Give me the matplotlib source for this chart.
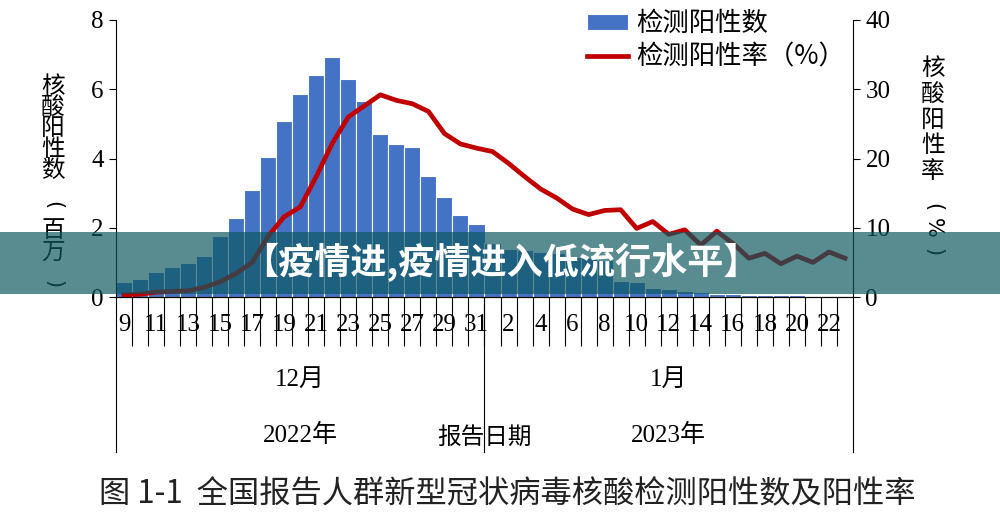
import matplotlib.pyplot as plt
import matplotlib.transforms as mtransforms
from matplotlib.lines import Line2D
from matplotlib.patches import Rectangle

plt.rcParams['font.family'] = ['Liberation Serif', 'Noto Sans CJK SC']
CJK = ['Noto Sans CJK SC', 'DejaVu Sans']

# 报告日期: 2022-12-09 .. 2023-01-23
dec_days = list(range(9, 32))
jan_days = list(range(1, 24))

# 检测阳性数 (百万)
positive_counts = [0.42, 0.51, 0.71, 0.87, 0.99, 1.18, 1.75, 2.27, 3.08, 4.04,
                   5.08, 5.87, 6.40, 6.93, 6.29, 5.65, 4.72, 4.43, 4.33, 3.49,
                   2.88, 2.38, 2.12,
                   1.56, 1.38, 1.35, 1.30, 1.27, 1.15, 1.12, 1.08, 0.45, 0.42,
                   0.27, 0.24, 0.17, 0.14, 0.10, 0.09, 0.07, 0.07, 0.05, 0.05,
                   0.04, 0.03, 0.02]

# 检测阳性率 (%)
positive_rate = [0.3, 0.4, 0.7, 0.8, 0.9, 1.4, 2.2, 3.4, 5.0, 8.8,
                 11.6, 13.0, 17.4, 22.2, 26.0, 27.6, 29.2, 28.4, 27.9, 26.8,
                 23.6, 22.1, 21.5,
                 21.0, 19.3, 17.4, 15.6, 14.3, 12.7, 11.9, 12.5, 12.6, 9.9,
                 10.9, 9.05, 9.7, 7.5, 9.5, 7.75, 5.6, 6.3, 4.8, 5.9,
                 5.0, 6.5, 5.6]

months = ['12月', '1月']
years = ['2022年', '2023年']

days = dec_days + jan_days
x = list(range(len(days)))
tick_labels = []
for i, d in enumerate(days):
    in_dec = i < len(dec_days)
    show = (in_dec and d % 2 == 1) or (not in_dec and d % 2 == 0)
    tick_labels.append(str(d) if show else '')

W, H = 1000, 526
fig = plt.figure(figsize=(10, 5.26), dpi=100)
ax = fig.add_axes([116 / W, 1 - 297 / H, 737 / W, 277 / H])

bars = ax.bar(x, positive_counts, width=1.0, color='#4472C4',
              edgecolor='white', linewidth=0.8)
ax.set_xlim(-0.5, len(days) - 0.5)
ax.set_ylim(0, 8)
ax.set_yticks([0, 2, 4, 6, 8])
ax.tick_params(axis='y', direction='out', length=5, labelsize=18, pad=4)
ax.set_xticks(x)
ax.set_xticklabels(tick_labels)
ax.tick_params(axis='x', which='major', length=0, labelsize=18, pad=12)
ax.set_xticks([i + 0.5 for i in range(len(days) - 1)], minor=True)
ax.tick_params(axis='x', which='minor', length=35, direction='out', width=0.8)
ax.spines['top'].set_visible(False)
ax.spines['right'].set_visible(False)

ax2 = ax.twinx()
rate_line, = ax2.plot(x, positive_rate, color='#C00000', lw=3.4,
                      solid_joinstyle='round')
ax2.set_ylim(0, 40)
ax2.set_yticks([0, 10, 20, 30, 40])
ax2.tick_params(axis='y', direction='out', length=5, labelsize=18, pad=4)
ax2.spines['top'].set_visible(False)
ax2.spines['left'].set_visible(False)

# long separators below the axis
trans = mtransforms.blended_transform_factory(ax.transData, ax.transAxes)
low = -155 / 277
for xv in [-0.5, len(dec_days) - 0.5, len(days) - 0.5]:
    ax.add_line(Line2D([xv, xv], [0, low], transform=trans, color='black',
                       lw=0.8, clip_on=False))

dec_mid = (len(dec_days) - 1) / 2
jan_mid = len(dec_days) + (len(jan_days) - 1) / 2
for xm, m, yr in [(dec_mid, months[0], years[0]), (jan_mid, months[1], years[1])]:
    ax.text(xm, (297 - 380) / 277, m, transform=trans, ha='center',
            va='center', fontsize=18)
    ax.text(xm, (297 - 435) / 277, yr, transform=trans, ha='center',
            va='center', fontsize=18)
ax.text(len(dec_days) - 0.5, (297 - 437) / 277, '报告日期', transform=trans,
        ha='center', va='center', fontsize=17, family=CJK)

# vertical axis titles (stacked characters, brackets turned sideways)
left_chars = ['核', '酸', '阳', '性', '数', '(', '百', '万', ')']
left_y = [86, 107, 128, 149, 170, 205, 230, 252, 284]
for ch, yy in zip(left_chars, left_y):
    if ch in '()':
        fig.text(53 / W, 1 - yy / H, ch, ha='center', va='center',
                 fontsize=15, family='DejaVu Sans', rotation=-90)
    else:
        fig.text(53 / W, 1 - yy / H, ch, ha='center', va='center',
                 fontsize=17, family=CJK)

right_chars = ['核', '酸', '阳', '性', '率', '(', '%', ')']
right_y = [68, 94, 120, 146, 172, 207, 228, 252]
for ch, yy in zip(right_chars, right_y):
    if ch in '()%':
        fig.text(933 / W, 1 - yy / H, ch, ha='center', va='center',
                 fontsize=15, family='DejaVu Sans', rotation=-90)
    else:
        fig.text(933 / W, 1 - yy / H, ch, ha='center', va='center',
                 fontsize=17, family=CJK)

ax2.legend([bars, rate_line], ['检测阳性数', '检测阳性率（%）'],
           loc='upper left', bbox_to_anchor=(574 / W, 1 + 3 / H),
           bbox_transform=fig.transFigure, frameon=False,
           prop={'family': CJK, 'size': 19}, handlelength=1.55,
           handleheight=0.6, labelspacing=0.25, borderpad=0,
           handletextpad=0.3)

fig.text(507 / W, 1 - 494 / H, '图 1-1  全国报告人群新型冠状病毒核酸检测阳性数及阳性率',
         ha='center', va='center', fontsize=22.5, family=CJK, color='#222222')

# overlay banner
fig.patches.append(Rectangle((0, 1 - 294 / H), 1, 62 / H,
                             transform=fig.transFigure,
                             facecolor=(13 / 255, 88 / 255, 96 / 255),
                             alpha=0.69, edgecolor='none', zorder=10))
fig.text(501 / W, 1 - 263 / H, '【疫情进,疫情进入低流行水平】', ha='center',
         va='center', fontsize=26, fontweight='bold', color='white',
         family=CJK, zorder=11)

fig.savefig('out.png', dpi=100)
